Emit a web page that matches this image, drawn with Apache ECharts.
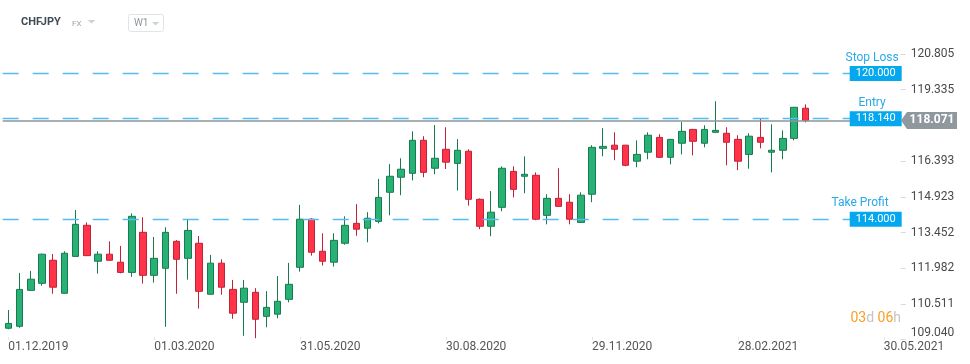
<!DOCTYPE html>
<html><head><meta charset="utf-8">
<script src="https://cdn.jsdelivr.net/npm/echarts@6/dist/echarts.min.js"></script>
<style>html,body{margin:0;padding:0;background:#fff}#c{width:970px;height:364px}</style>
</head><body><div id="c"></div>
<script>
// ---- data ----
const dates = [
 '01.12.2019','08.12.2019','15.12.2019','22.12.2019','29.12.2019',
 '05.01.2020','12.01.2020','19.01.2020','26.01.2020',
 '02.02.2020','09.02.2020','16.02.2020','23.02.2020',
 '01.03.2020','08.03.2020','15.03.2020','22.03.2020','29.03.2020',
 '05.04.2020','12.04.2020','19.04.2020','26.04.2020',
 '03.05.2020','10.05.2020','17.05.2020','24.05.2020','31.05.2020',
 '07.06.2020','14.06.2020','21.06.2020','28.06.2020',
 '05.07.2020','12.07.2020','19.07.2020','26.07.2020',
 '02.08.2020','09.08.2020','16.08.2020','23.08.2020','30.08.2020',
 '06.09.2020','13.09.2020','20.09.2020','27.09.2020',
 '04.10.2020','11.10.2020','18.10.2020','25.10.2020',
 '01.11.2020','08.11.2020','15.11.2020','22.11.2020','29.11.2020',
 '06.12.2020','13.12.2020','20.12.2020','27.12.2020',
 '03.01.2021','10.01.2021','17.01.2021','24.01.2021','31.01.2021',
 '07.02.2021','14.02.2021','21.02.2021','28.02.2021',
 '07.03.2021','14.03.2021','21.03.2021','28.03.2021',
 '04.04.2021','11.04.2021','18.04.2021','25.04.2021',
 '02.05.2021','09.05.2021','16.05.2021','23.05.2021','30.05.2021',
 '06.06.2021'
];
const opens  = [109.51,109.59,111.07,111.36,112.31,110.95,112.47,113.75,112.27,112.56,112.23,111.81,113.46,111.69,111.98,113.09,112.39,113.01,110.91,112.19,111.11,110.58,110.99,110.00,110.09,110.70,112.02,114.00,112.68,112.23,113.01,113.83,113.63,113.91,115.11,115.73,115.89,117.25,116.10,116.88,116.30,116.80,114.82,113.71,114.49,115.97,115.77,115.81,114.16,114.86,114.70,113.87,115.03,116.92,117.05,117.05,116.39,116.76,117.37,116.55,117.13,117.70,117.13,117.58,117.54,117.29,116.67,117.37,116.76,116.84,117.33,118.57];
const closes = [109.71,111.11,111.53,112.56,111.20,112.60,113.79,112.50,112.56,112.31,111.81,114.12,111.69,112.39,113.46,112.35,113.54,111.03,112.19,111.20,110.13,111.16,109.88,110.37,110.62,111.32,114.00,112.64,112.27,113.13,113.75,113.59,114.04,114.90,115.77,116.06,117.25,115.93,116.51,116.35,116.84,114.82,113.71,114.29,116.10,115.23,115.85,114.00,114.86,114.53,114.00,114.99,116.96,117.00,116.88,116.22,116.67,117.46,116.55,117.29,117.62,117.21,117.70,117.66,117.17,116.39,117.42,117.17,116.84,117.33,118.61,118.071];
const lows   = [109.47,109.53,111.05,111.26,110.93,110.93,112.45,112.48,111.76,112.30,111.77,111.63,111.35,111.39,109.57,110.93,111.51,110.32,110.90,110.89,109.90,109.20,109.10,109.55,109.92,110.58,111.84,112.50,112.09,112.05,112.95,113.32,113.05,113.83,114.16,114.99,115.60,115.73,115.85,116.07,115.18,114.56,113.59,113.30,114.33,114.90,115.07,113.96,113.79,114.52,113.79,113.85,114.70,116.59,116.43,116.18,116.14,116.47,116.53,116.26,116.67,116.63,116.96,117.56,116.22,116.02,116.08,116.92,115.93,116.47,117.25,117.99];
const highs  = [110.26,111.79,111.87,112.58,112.57,112.68,114.38,113.87,112.68,113.09,112.90,114.24,114.08,113.27,113.67,113.14,114.01,113.31,112.53,112.35,111.50,111.50,111.16,111.04,111.66,112.20,114.59,114.05,113.42,113.42,114.12,114.62,114.29,115.66,116.27,116.51,117.62,117.42,117.88,117.79,117.30,116.88,114.86,115.16,116.18,116.18,116.59,115.93,115.03,116.10,115.03,115.11,117.05,117.75,117.58,117.06,117.25,117.58,117.50,117.30,118.00,117.72,117.87,118.86,117.79,117.46,117.54,118.16,117.91,117.66,118.62,118.73];
const yTickValues = [109.040,110.511,111.982,113.452,114.923,116.393,119.335,120.805];
const xLabelDates = ['01.12.2019','01.03.2020','31.05.2020','30.08.2020','29.11.2020','28.02.2021','30.05.2021'];
const levelNames  = ['Stop Loss','Entry','Take Profit'];
const levelValues = [120.000,118.140,114.000];
const lastPrice = 118.071;
const symbolName = 'CHFJPY';
const marketName = 'FX';
const periodName = 'W1';
const countdown = ['03','d','06','h'];

// ---- styles ----
const nameDx = [2, 15, 12];
const lvlBlue = '#29a9e8';

const chart = echarts.init(document.getElementById('c'), null, {renderer:'canvas'});
const candleData = opens.map((o,i)=>[o, closes[i], lows[i], highs[i]]);

const mlData = [
  {yAxis:lastPrice, lineStyle:{color:'#8c969b', type:'solid', width:1.5}, label:{show:false}}
];
levelValues.forEach((v,i)=>{
  mlData.push({yAxis:v, lineStyle:{color:'#55bcef', type:[16,14], width:1.3},
    label:{show:true, position:'insideEnd', formatter:v.toFixed(3), color:'#fff', fontSize:11,
      fontFamily:'Roboto', backgroundColor:'#05a8ef', padding:[2,6,1,6], lineHeight:12, distance:[-1,0]}});
  mlData.push({yAxis:v, lineStyle:{color:'rgba(0,0,0,0)', width:0},
    label:{show:true, position:'insideEndTop', formatter:levelNames[i], color:lvlBlue, fontSize:12,
      fontFamily:'Roboto', distance:[nameDx[i], 10], opacity:1}});
});

chart.setOption({
  animation:false,
  grid:{left:2.7, right:69.3, top:0, bottom:24},
  xAxis:{
    type:'category', data:dates, boundaryGap:true,
    axisLine:{show:false},
    axisTick:{show:true, inside:true, length:3, alignWithLabel:true,
      interval:(i,v)=>xLabelDates.includes(v), lineStyle:{color:'#e6e6e6'}},
    axisLabel:{interval:(i,v)=>xLabelDates.includes(v), align:'left', margin:1,
      color:'#555', fontSize:12, fontFamily:'Roboto', hideOverlap:false},
    splitLine:{show:false}
  },
  yAxis:{
    type:'value', position:'right', min:109.026, max:123.029, scale:true,
    axisLine:{show:false},
    axisTick:{show:true, length:5, lineStyle:{color:'#d9d9d9'}, customValues:yTickValues},
    axisLabel:{customValues:yTickValues, margin:10, color:'#4a4a4a', fontSize:12, fontFamily:'Roboto',
      formatter:(v)=> Math.abs(v-yTickValues[0])<1e-6 ? '{low|'+v.toFixed(3)+'}' : v.toFixed(3),
      rich:{low:{padding:[0,0,13,0], color:'#4a4a4a', fontSize:12, fontFamily:'Roboto'}}},
    splitLine:{show:false}
  },
  series:[{
    type:'candlestick', data:candleData, barWidth:7,
    itemStyle:{color:'#27b174', color0:'#ff3449', borderColor:'#187b4f', borderColor0:'#c2213a', borderWidth:1},
    markLine:{silent:true, symbol:'none', animation:false, data:mlData}
  }]
});

const py = chart.convertToPixel({yAxisIndex:0}, lastPrice);
chart.setOption({
  graphic:[
    {type:'text', left:21, top:17, style:{text:symbolName, fill:'#3e4a56', font:'bold 11px Roboto'}},
    {type:'text', left:72, top:19.5, style:{text:marketName, fill:'#9ba4ab', font:'8px Roboto'}},
    {type:'polygon', shape:{points:[[87.5,20],[95.5,20],[91.5,23.5]]}, style:{fill:'#cdd2d6'}},
    {type:'rect', shape:{x:128.5, y:14.5, width:35, height:17, r:2}, style:{fill:'#fff', stroke:'#e1e4e7', lineWidth:1}},
    {type:'text', left:134, top:18, style:{text:periodName, fill:'#8c969d', font:'10px Roboto'}},
    {type:'polygon', shape:{points:[[152,22],[159,22],[155.5,25.5]]}, style:{fill:'#cdd2d6'}},
    {type:'polygon', shape:{points:[[901,py],[907,py-8.5],[957,py-8.5],[957,py+8.5],[907,py+8.5]]}, style:{fill:'#8f989d'}, z:100},
    {type:'text', x:932, y:py, z:101, style:{text:lastPrice.toFixed(3), fill:'#fff', font:'bold 12px Roboto', align:'center', verticalAlign:'middle'}},
    {type:'text', x:901, y:318.5, style:{
      text:'{o|'+countdown[0]+'}{g|'+countdown[1]+'} {o|'+countdown[2]+'}{g|'+countdown[3]+'}',
      align:'right', verticalAlign:'middle', font:'14px Roboto',
      rich:{o:{fill:'#f7a028', font:'14px Roboto'}, g:{fill:'#c4c4c4', font:'14px Roboto'}}}}
  ]
});
</script>
</body></html>
